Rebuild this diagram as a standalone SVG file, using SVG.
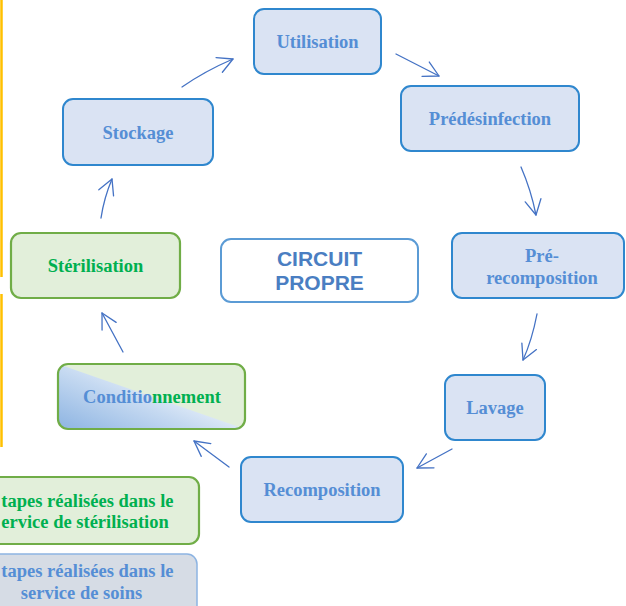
<svg xmlns="http://www.w3.org/2000/svg" width="626" height="606" viewBox="0 0 626 606">
<style>
.bn{fill:#DAE3F3;stroke:#2F87CE;stroke-width:2}
.gn{fill:#E2EFDA;stroke:#70AD47;stroke-width:2.2}
.lb{font-family:"Liberation Serif","Times New Roman",serif;font-weight:bold;font-size:18.5px;text-anchor:middle}
.le{text-anchor:end}
.bt{fill:#558ED5}
.gt{fill:#00B050}
.cn{fill:none;stroke:#4472C4;stroke-width:1.3;stroke-linecap:round}
</style>
<defs>
<marker id="ah" viewBox="0 0 20 20" refX="16" refY="10" markerWidth="20" markerHeight="20" markerUnits="userSpaceOnUse" orient="auto">
<path d="M1,2 L16,10 L1,18" fill="none" stroke="#4472C4" stroke-width="1.3" stroke-linecap="round" stroke-linejoin="round"/>
</marker>
<linearGradient id="cg" x1="0" y1="1" x2="1" y2="0.2">
<stop offset="0" stop-color="#8DB4E2"/>
<stop offset="0.45" stop-color="#C5D9F1"/>
<stop offset="0.85" stop-color="#FFFFFF"/>
</linearGradient>
<clipPath id="cc"><rect x="58" y="364" width="187" height="65" rx="10"/></clipPath>
</defs>
<rect x="0" y="0" width="626" height="606" fill="#FFFFFF"/>
<g id="yellow-lines">
<line x1="1.5" y1="0" x2="1.5" y2="277" stroke="#FFC000" stroke-width="2.5"/>
<line x1="1.5" y1="294" x2="1.5" y2="447" stroke="#FFC000" stroke-width="2.5"/>
</g>
<g id="connectors">
<path class="cn" d="M182,87 Q205,71 233,59" marker-end="url(#ah)"/>
<path class="cn" d="M396,54 L439,76" marker-end="url(#ah)"/>
<path class="cn" d="M521,167 Q531,190 536,215" marker-end="url(#ah)"/>
<path class="cn" d="M537,314 Q532,340 523,360" marker-end="url(#ah)"/>
<path class="cn" d="M452,449 L417,468" marker-end="url(#ah)"/>
<path class="cn" d="M229,467 L194,441" marker-end="url(#ah)"/>
<path class="cn" d="M123,352 L102,313" marker-end="url(#ah)"/>
<path class="cn" d="M101,218 Q104,198 112,179" marker-end="url(#ah)"/>
</g>
<g id="utilisation">
<rect class="bn" x="254" y="9" width="127" height="65" rx="10"/>
<text class="lb bt" x="317.5" y="48">Utilisation</text>
</g>
<g id="predesinfection">
<rect class="bn" x="401" y="86" width="178" height="65" rx="10"/>
<text class="lb bt" x="490" y="125">Prédésinfection</text>
</g>
<g id="prerecomposition">
<rect class="bn" x="452" y="233" width="172" height="65" rx="10"/>
<text class="lb bt" x="542" y="262">Pré-</text>
<text class="lb bt" x="542" y="284">recomposition</text>
</g>
<g id="lavage">
<rect class="bn" x="445" y="375" width="100" height="65" rx="10"/>
<text class="lb bt" x="495" y="414">Lavage</text>
</g>
<g id="recomposition">
<rect class="bn" x="241" y="457" width="162" height="65" rx="10"/>
<text class="lb bt" x="322" y="496">Recomposition</text>
</g>
<g id="conditionnement">
<rect x="58" y="364" width="187" height="65" rx="10" fill="#E2EFDA"/>
<polygon points="58,364 245,429 58,429" fill="url(#cg)" clip-path="url(#cc)"/>
<rect x="58" y="364" width="187" height="65" rx="10" fill="none" stroke="#70AD47" stroke-width="2.2"/>
<text class="lb" x="152" y="403"><tspan class="bt">Conditio</tspan><tspan class="gt">nnement</tspan></text>
</g>
<g id="sterilisation">
<rect class="gn" x="11" y="233" width="169" height="65" rx="10"/>
<text class="lb gt" x="95.5" y="272">Stérilisation</text>
</g>
<g id="stockage">
<rect class="bn" x="63" y="99" width="150" height="66" rx="10"/>
<text class="lb bt" x="138" y="139">Stockage</text>
</g>
<g id="circuit-propre">
<rect x="221" y="239" width="197" height="63" rx="10" fill="#FFFFFF" stroke="#5B9BD5" stroke-width="2"/>
<text x="319.5" y="266" font-family="'Liberation Sans',Arial,sans-serif" font-weight="bold" font-size="21" fill="#4A7EC2" text-anchor="middle">CIRCUIT</text>
<text x="319.5" y="290" font-family="'Liberation Sans',Arial,sans-serif" font-weight="bold" font-size="21" fill="#4A7EC2" text-anchor="middle">PROPRE</text>
</g>
<g id="legend-sterilisation">
<rect x="-20" y="477" width="219" height="67" rx="10" fill="#E2EFDA" stroke="#70AD47" stroke-width="2.2"/>
<text class="lb le gt" x="173.5" y="507">tapes réalisées dans le</text>
<text class="lb le gt" x="168.8" y="528">ervice de stérilisation</text>
</g>
<g id="legend-soins">
<rect x="-20" y="554" width="217" height="70" rx="10" fill="#D6DCE5" stroke="#8DB4E2" stroke-width="1.5"/>
<text class="lb le bt" x="173.5" y="577">tapes réalisées dans le</text>
<text class="lb bt" x="81.5" y="599">service de soins</text>
</g>
</svg>
